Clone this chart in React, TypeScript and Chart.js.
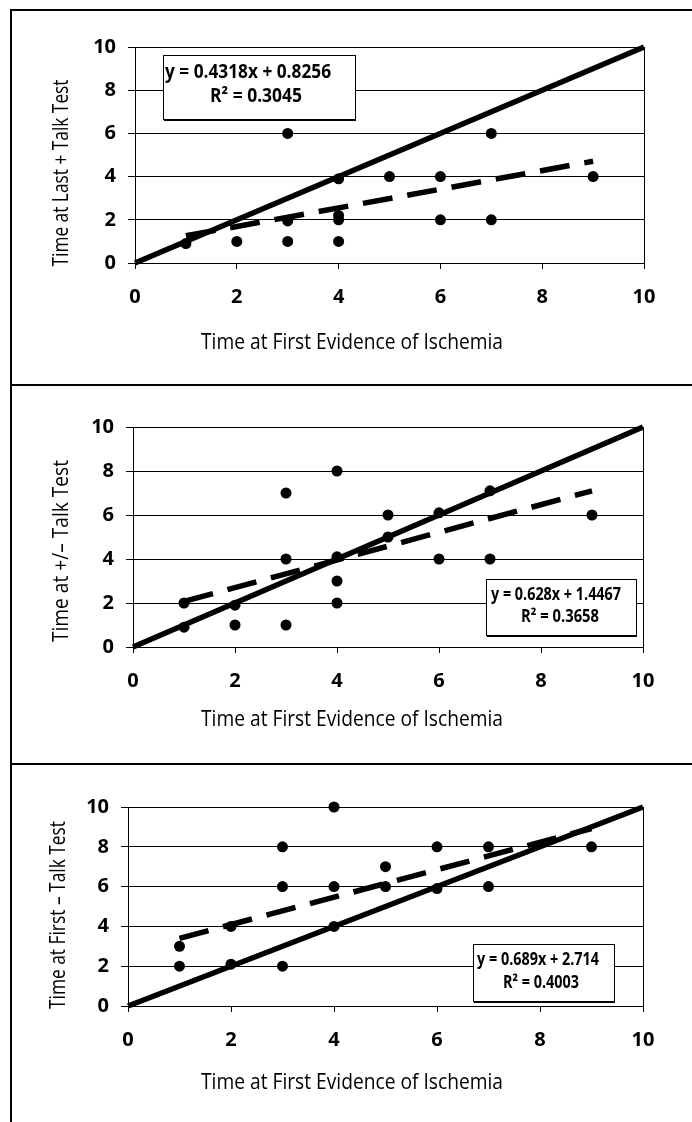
import React, { useEffect, useRef } from "react";
import { Chart, registerables } from "chart.js";

Chart.register(...registerables);

// ---------- data ----------
const xAxisTitle = "Time at First Evidence of Ischemia";
const axisMin = 0;
const axisMax = 10;
const axisStep = 2;

const identityX = [0, 10];
const identityY = [0, 10];

// Panel 1: Last + Talk Test
const p1Title = "Time at Last + Talk Test";
const p1X = [1, 2, 3, 3, 3, 4, 4, 4, 4, 5, 6, 6, 7, 7, 9];
const p1Y = [0.9, 1, 6, 1.95, 1, 3.9, 2, 2.2, 1, 4, 4, 2, 6, 2, 4];
const p1TrendX = [1, 9];
const p1TrendY = [1.26, 4.71];
const p1Eq = ["y = 0.4318x + 0.8256", "R² = 0.3045"];

// Panel 2: +/- Talk Test
const p2Title = "Time at +/– Talk Test";
const p2X = [1, 1, 2, 2, 3, 3, 3, 4, 4, 4, 4, 5, 5, 6, 6, 7, 7, 9];
const p2Y = [2, 0.9, 1.9, 1, 7, 4, 1, 8, 4.1, 3, 2, 6, 5, 6.1, 4, 7.1, 4, 6];
const p2TrendX = [1, 9];
const p2TrendY = [2.07, 7.1];
const p2Eq = ["y = 0.628x + 1.4467", "R² = 0.3658"];

// Panel 3: First - Talk Test
const p3Title = "Time at First – Talk Test";
const p3X = [1, 1, 2, 2, 3, 3, 3, 4, 4, 4, 5, 5, 6, 6, 7, 7, 9];
const p3Y = [3, 2, 4, 2.1, 8, 6, 2, 10, 6, 4, 7, 6, 8, 5.9, 8, 6, 8];
const p3TrendX = [1, 9];
const p3TrendY = [3.4, 8.92];
const p3Eq = ["y = 0.689x + 2.714", "R² = 0.4003"];

// ---------- layout ----------
type Line = { x: number; y: number; w: number; size: number };
type Spec = {
  top: number;
  height: number;
  padTop: number;
  padRight: number;
  yAxisWidth: number;
  xAxisHeight: number;
  yTitle: string;
  yTitlePos: { x: number; y: number; w: number };
  xTitlePos: { x: number; y: number; w: number };
  xs: number[];
  ys: number[];
  trendX: number[];
  trendY: number[];
  eq: string[];
  box: { x: number; y: number; w: number; h: number };
  eqLines: Line[];
};

const CANVAS_LEFT = 12;
const CANVAS_WIDTH = 680;
const FONT = "'Open Sans', 'DejaVu Sans', sans-serif";

const panels: Spec[] = [
  {
    top: 11,
    height: 373,
    padTop: 36,
    padRight: 48,
    yAxisWidth: 123,
    xAxisHeight: 121,
    yTitle: p1Title,
    yTitlePos: { x: 50, y: 162, w: 187 },
    xTitlePos: { x: 340, y: 332, w: 302 },
    xs: p1X,
    ys: p1Y,
    trendX: p1TrendX,
    trendY: p1TrendY,
    eq: p1Eq,
    box: { x: 151, y: 44, w: 192, h: 64 },
    eqLines: [
      { x: 236, y: 62, w: 166, size: 19 },
      { x: 244, y: 86, w: 92, size: 19 },
    ],
  },
  {
    top: 386,
    height: 377,
    padTop: 41,
    padRight: 49,
    yAxisWidth: 121,
    xAxisHeight: 116,
    yTitle: p2Title,
    yTitlePos: { x: 50, y: 165, w: 182 },
    xTitlePos: { x: 340, y: 334, w: 302 },
    xs: p2X,
    ys: p2Y,
    trendX: p2TrendX,
    trendY: p2TrendY,
    eq: p2Eq,
    box: { x: 474, y: 193, w: 150, h: 56 },
    eqLines: [
      { x: 544, y: 209, w: 130, size: 17 },
      { x: 548, y: 231, w: 78, size: 17 },
    ],
  },
  {
    top: 765,
    height: 357,
    padTop: 42,
    padRight: 49,
    yAxisWidth: 116,
    xAxisHeight: 116,
    yTitle: p3Title,
    yTitlePos: { x: 47, y: 150, w: 188 },
    xTitlePos: { x: 340, y: 318, w: 302 },
    xs: p3X,
    ys: p3Y,
    trendX: p3TrendX,
    trendY: p3TrendY,
    eq: p3Eq,
    box: { x: 461, y: 179, w: 141, h: 57 },
    eqLines: [
      { x: 526, y: 195, w: 122, size: 17 },
      { x: 529, y: 218, w: 76, size: 17 },
    ],
  },
];

function drawFitted(
  ctx: CanvasRenderingContext2D,
  text: string,
  cx: number,
  cy: number,
  font: string,
  width: number,
  rot: number
) {
  ctx.save();
  ctx.translate(cx, cy);
  ctx.rotate(rot);
  ctx.font = font;
  const m = ctx.measureText(text).width || 1;
  ctx.scale(width / m, 1);
  ctx.textAlign = "center";
  ctx.textBaseline = "middle";
  ctx.fillStyle = "#000";
  ctx.fillText(text, 0, 0);
  ctx.restore();
}

function Panel({ spec }: { spec: Spec }) {
  const ref = useRef<HTMLCanvasElement | null>(null);

  useEffect(() => {
    const canvas = ref.current;
    if (!canvas) return;

    const decor = {
      id: "decor",
      afterDatasetsDraw(chart: any) {
        const ctx: CanvasRenderingContext2D = chart.ctx;
        const { top, right, bottom } = chart.chartArea;
        ctx.save();
        ctx.strokeStyle = "#000";
        ctx.lineWidth = 1;
        const rx = Math.round(right) + 0.5;
        ctx.beginPath();
        ctx.moveTo(rx, top);
        ctx.lineTo(rx, bottom);
        ctx.stroke();

        const b = spec.box;
        ctx.fillStyle = "#fff";
        ctx.fillRect(b.x, b.y, b.w, b.h);
        ctx.strokeRect(b.x + 0.5, b.y + 0.5, b.w, b.h);
        ctx.fillStyle = "#000";
        ctx.fillRect(b.x + 1, b.y + b.h + 1, b.w, 1);

        spec.eqLines.forEach((l, i) => {
          drawFitted(ctx, spec.eq[i], l.x, l.y, `bold ${l.size}px ${FONT}`, l.w, 0);
        });

        drawFitted(
          ctx,
          spec.yTitle,
          spec.yTitlePos.x,
          spec.yTitlePos.y,
          `21px ${FONT}`,
          spec.yTitlePos.w,
          -Math.PI / 2
        );
        drawFitted(
          ctx,
          xAxisTitle,
          spec.xTitlePos.x,
          spec.xTitlePos.y,
          `21px ${FONT}`,
          spec.xTitlePos.w,
          0
        );
        ctx.restore();
      },
    };

    const tickFont = { family: FONT, size: 20, weight: "bold" as const };

    const chart = new Chart(canvas, {
      type: "scatter",
      data: {
        datasets: [
          {
            label: "data",
            data: spec.xs.map((x, i) => ({ x, y: spec.ys[i] })),
            pointRadius: 5.5,
            pointBackgroundColor: "#000",
            pointBorderColor: "#000",
            pointBorderWidth: 0,
            order: 0,
            clip: false as any,
          },
          {
            label: "identity",
            data: identityX.map((x, i) => ({ x, y: identityY[i] })),
            showLine: true,
            borderColor: "#000",
            borderWidth: 5.5,
            pointRadius: 0,
            order: 2,
            clip: false as any,
          },
          {
            label: "trend",
            data: spec.trendX.map((x, i) => ({ x, y: spec.trendY[i] })),
            showLine: true,
            borderColor: "#000",
            borderWidth: 5.5,
            borderDash: [30, 15],
            borderCapStyle: "butt",
            pointRadius: 0,
            order: 1,
            clip: false as any,
          },
        ],
      },
      options: {
        animation: false,
        responsive: false,
        events: [],
        layout: {
          padding: { top: spec.padTop, right: spec.padRight, left: 0, bottom: 0 },
        },
        plugins: {
          legend: { display: false },
          tooltip: { enabled: false },
        },
        scales: {
          x: {
            type: "linear",
            min: axisMin,
            max: axisMax,
            ticks: { stepSize: axisStep, padding: 16, color: "#000", font: tickFont },
            grid: { drawOnChartArea: false, drawTicks: true, tickLength: 6, color: "#000" },
            border: { display: true, color: "#000", width: 1 },
            afterFit: (s: any) => {
              s.height = spec.xAxisHeight;
            },
          },
          y: {
            type: "linear",
            min: axisMin,
            max: axisMax,
            ticks: { stepSize: axisStep, padding: 12, color: "#000", font: tickFont },
            grid: { color: "#000", lineWidth: 1, tickLength: 7 },
            border: { display: true, color: "#000", width: 1 },
            afterFit: (s: any) => {
              s.width = spec.yAxisWidth;
            },
          },
        },
      },
      plugins: [decor],
    });

    return () => chart.destroy();
  }, [spec]);

  return (
    <canvas
      ref={ref}
      width={CANVAS_WIDTH}
      height={spec.height}
      style={{
        position: "absolute",
        left: CANVAS_LEFT,
        top: spec.top,
        width: CANVAS_WIDTH,
        height: spec.height,
      }}
    />
  );
}

export default function App() {
  const line = (l: number, t: number, w: number, h: number) => (
    <div style={{ position: "absolute", left: l, top: t, width: w, height: h, background: "#000" }} />
  );
  return (
    <div
      style={{
        position: "fixed",
        left: 0,
        top: 0,
        width: 692,
        height: 1122,
        background: "#fff",
        overflow: "hidden",
      }}
    >
      {line(10, 9, 682, 2)}
      {line(10, 9, 2, 1113)}
      {line(10, 384, 682, 2)}
      {line(10, 763, 682, 2)}
      {panels.map((p, i) => (
        <Panel key={i} spec={p} />
      ))}
    </div>
  );
}
